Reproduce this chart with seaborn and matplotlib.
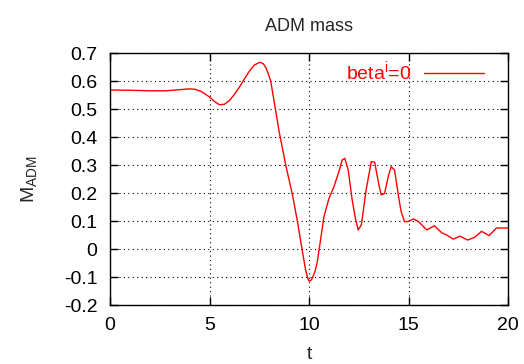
import matplotlib
matplotlib.use("Agg")
import matplotlib.pyplot as plt
import seaborn as sns
import pandas as pd

t_vals = [0.0, 1.0, 2.0, 2.8, 3.5, 4.0, 4.3, 4.6, 5.0, 5.25, 5.5, 5.75, 6.0, 6.25, 6.5,
          6.75, 7.0, 7.25, 7.53, 7.7, 7.83, 7.95, 8.08, 8.25, 8.5, 8.83, 9.17, 9.42, 9.67,
          9.83, 9.93, 10.0, 10.08, 10.17, 10.3, 10.42, 10.75, 11.0, 11.25, 11.5, 11.67,
          11.8, 11.97, 12.17, 12.33, 12.47, 12.63, 12.87, 13.13, 13.3, 13.5, 13.63, 13.8,
          14.0, 14.13, 14.3, 14.5, 14.63, 14.8, 14.97, 15.25, 15.5, 15.92, 16.3, 16.67,
          16.92, 17.25, 17.58, 17.97, 18.33, 18.67, 19.05, 19.42, 20.0]
m_adm = [0.568, 0.567, 0.565, 0.565, 0.569, 0.572, 0.570, 0.562, 0.543, 0.527, 0.515,
         0.517, 0.530, 0.552, 0.578, 0.607, 0.635, 0.657, 0.667, 0.662, 0.648, 0.627,
         0.598, 0.526, 0.419, 0.30, 0.193, 0.098, -0.01, -0.075, -0.103, -0.114, -0.113,
         -0.104, -0.080, -0.045, 0.115, 0.18, 0.222, 0.276, 0.318, 0.324, 0.282, 0.175,
         0.11, 0.068, 0.086, 0.211, 0.312, 0.31, 0.234, 0.193, 0.199, 0.264, 0.294, 0.282,
         0.187, 0.133, 0.098, 0.098, 0.107, 0.098, 0.068, 0.083, 0.058, 0.05, 0.035,
         0.046, 0.032, 0.042, 0.063, 0.048, 0.075, 0.075]
series_label = r"beta$^{\mathregular{i}}$=0"
x_ticks = [0, 5, 10, 15, 20]
y_ticks = [-0.2, -0.1, 0, 0.1, 0.2, 0.3, 0.4, 0.5, 0.6, 0.7]
y_tick_labels = ["-0.2", "-0.1", "0", "0.1", "0.2", "0.3", "0.4", "0.5", "0.6", "0.7"]

sns.set_style("ticks")
plt.rcParams["font.family"] = ["Liberation Sans", "DejaVu Sans"]
plt.rcParams["mathtext.fontset"] = "custom"
plt.rcParams["mathtext.rm"] = "Liberation Sans"

df = pd.DataFrame({"t": t_vals, "M": m_adm})

fig = plt.figure(figsize=(5.24, 3.64), dpi=100)
ax = fig.add_axes([110 / 524, 1 - 305 / 364, 398 / 524, 252 / 364])
sns.lineplot(data=df, x="t", y="M", ax=ax, color="#ff0000", lw=1.0, sort=False,
             label=series_label)

ax.set_xlim(0, 20)
ax.set_ylim(-0.2, 0.7)
ax.set_xticks(x_ticks)
ax.set_xticklabels([str(v) for v in x_ticks])
ax.set_yticks(y_ticks)
ax.set_yticklabels(y_tick_labels)
ax.grid(True, color="black", linestyle=(0, (1, 3)), linewidth=0.8)
ax.tick_params(direction="in", length=6, width=1, labelsize=14, top=True, right=True,
               colors="black", pad=9)
for s in ax.spines.values():
    s.set_visible(True)
    s.set_linewidth(1)
    s.set_color("black")

ax.set_title("ADM mass", fontsize=13, pad=16)
ax.set_xlabel("t", fontsize=14, labelpad=8)
ax.set_ylabel(r"M$_{\mathregular{ADM}}$", fontsize=14, labelpad=17)

leg = ax.legend(loc="upper right", frameon=False, fontsize=14, markerfirst=False,
                handlelength=3.1, handletextpad=0.65, bbox_to_anchor=(0.96, 1.005),
                borderaxespad=0)
for txt in leg.get_texts():
    txt.set_color("#ff0000")

fig.savefig("out.png", dpi=100)
